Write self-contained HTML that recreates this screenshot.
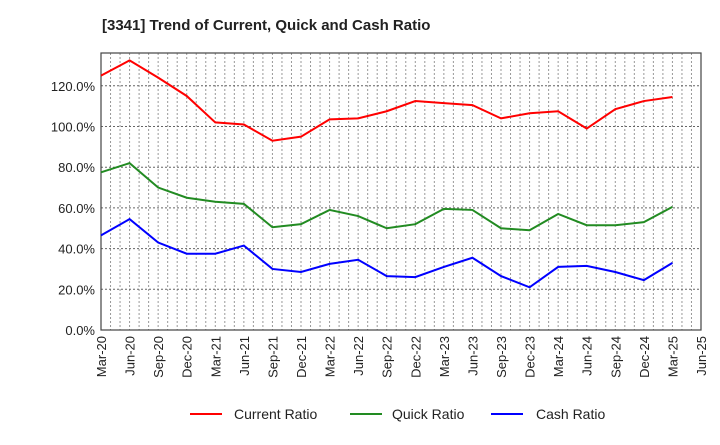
<!DOCTYPE html>
<html><head><meta charset="utf-8"><style>
body{margin:0;background:#fff;font-family:"Liberation Sans",sans-serif;}
</style></head><body>
<svg id="chart" width="720" height="440" xmlns="http://www.w3.org/2000/svg" font-family="Liberation Sans, sans-serif">
<text x="102" y="30" font-size="15" font-weight="bold" fill="#222">[3341]  Trend of Current, Quick and Cash Ratio</text>
<g id="grid"></g><g id="axes"></g><g id="series"></g>
<g font-size="14" fill="#222">
<g><line x1="190" y1="414" x2="222" y2="414" stroke="#ff0000" stroke-width="2"/><text x="234" y="419">Current Ratio</text></g>
<g><line x1="350" y1="414" x2="382" y2="414" stroke="#228b22" stroke-width="2"/><text x="392" y="419">Quick Ratio</text></g>
<g><line x1="491" y1="414" x2="523" y2="414" stroke="#0000ff" stroke-width="2"/><text x="536" y="419">Cash Ratio</text></g>
</g>
</svg>
<script>
const categories=["Mar-20","Jun-20","Sep-20","Dec-20","Mar-21","Jun-21","Sep-21","Dec-21","Mar-22","Jun-22","Sep-22","Dec-22","Mar-23","Jun-23","Sep-23","Dec-23","Mar-24","Jun-24","Sep-24","Dec-24","Mar-25","Jun-25"];
const currentRatio=[125,132.5,124,115,102,101,93,95,103.5,104,107.5,112.5,111.5,110.5,104,106.5,107.5,99,108.5,112.5,114.5];
const quickRatio=[77.5,82,70,65,63,62,50.5,52,59,56,50,52,59.5,59,50,49,57,51.5,51.5,53,60.5];
const cashRatio=[46.5,54.5,43,37.5,37.5,41.5,30,28.5,32.5,34.5,26.5,26,31,35.5,26.5,21,31,31.5,28.5,24.5,33];
const yTicks=[0,20,40,60,80,100,120];
const L=101,R=701,T=53,B=330;
const NS="http://www.w3.org/2000/svg";
const xq=i=>L+i*(R-L)/(categories.length-1);
const y=v=>B-v*(B-126.5)/100;
function mk(tag,attrs,parent){const e=document.createElementNS(NS,tag);for(const k in attrs)e.setAttribute(k,attrs[k]);parent.appendChild(e);return e;}
const grid=document.getElementById('grid'),axes=document.getElementById('axes'),ser=document.getElementById('series');
for(let m=1;m<(categories.length-1)*3;m++){const xx=L+m*(R-L)/((categories.length-1)*3);
const g=mk('line',{x1:xx,x2:xx,y1:T,y2:B,stroke:'#999','stroke-dasharray':'2,2','stroke-width':1},grid);

}
yTicks.forEach(v=>{if(v>0){const g=mk('line',{x1:L,x2:R,y1:y(v),y2:y(v),stroke:'#666','stroke-dasharray':'2,2','stroke-width':1},grid);

}
const t=mk('text',{x:L-6,y:y(v)+5,'text-anchor':'end','font-size':'13',fill:'#222'},axes);t.textContent=v.toFixed(1)+'%';

});
const fr=mk('rect',{x:L,y:T,width:R-L,height:B-T,fill:'none',stroke:'#444','stroke-width':1.2},axes);


categories.forEach((c,i)=>{const t=mk('text',{transform:`translate(${xq(i)+5},${B+6}) rotate(-90)`,'text-anchor':'end','font-size':'13',fill:'#222'},axes);t.textContent=c;

});
[[currentRatio,'#ff0000','current-ratio-line'],[quickRatio,'#228b22','quick-ratio-line'],[cashRatio,'#0000ff','cash-ratio-line']].forEach(([d,col,n])=>{
const p=mk('polyline',{points:d.map((v,i)=>xq(i)+','+y(v)).join(' '),fill:'none',stroke:col,'stroke-width':2},ser);

});
</script>
</body></html>
